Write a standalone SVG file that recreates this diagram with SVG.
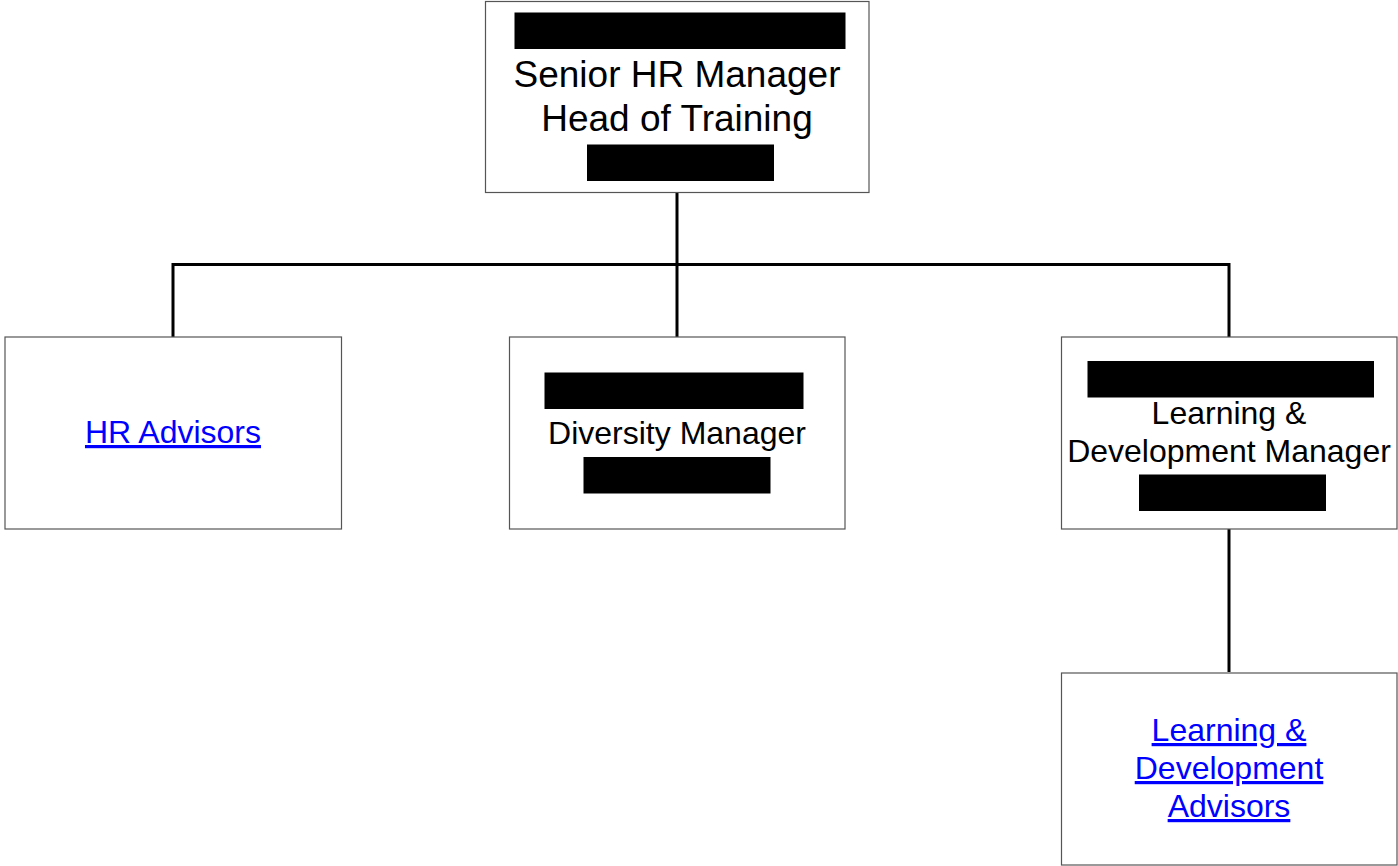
<svg xmlns="http://www.w3.org/2000/svg" width="1398" height="866" viewBox="0 0 1398 866">
<style>
.box{fill:#fff;stroke:#555;stroke-width:1.2}
.bar{fill:#000}
.t{font-family:"Liberation Sans",Arial,sans-serif;font-size:32px;fill:#000;text-anchor:middle}
.big{font-size:37px}
.link{fill:#0000ff;text-decoration:underline}
.c{stroke:#000;stroke-width:3;fill:none}
</style>
<rect width="1398" height="866" fill="#fff"/>
<g id="connectors">
<line class="c" x1="677" y1="192" x2="677" y2="337"/>
<polyline class="c" points="173,337 173,264.5 1229,264.5 1229,337"/>
<line class="c" x1="1229" y1="529" x2="1229" y2="672"/>
</g>
<g id="senior">
<rect class="box" x="485.5" y="1.5" width="383.5" height="191"/>
<rect class="bar" x="514.5" y="12.5" width="331" height="36.5"/>
<text class="t big" x="677" y="87">Senior HR Manager</text>
<text class="t big" x="677" y="131">Head of Training</text>
<rect class="bar" x="587" y="144.5" width="187" height="36.5"/>
</g>
<g id="hr-advisors">
<rect class="box" x="5" y="337" width="336.5" height="192"/>
<text class="t link" x="173" y="443">HR Advisors</text>
</g>
<g id="diversity">
<rect class="box" x="509.5" y="337" width="335.5" height="192"/>
<rect class="bar" x="544.5" y="372.5" width="259" height="36.5"/>
<text class="t" x="677" y="444">Diversity Manager</text>
<rect class="bar" x="583.5" y="457" width="187" height="36.5"/>
</g>
<g id="ld-manager">
<rect class="box" x="1061.5" y="337" width="335.5" height="192"/>
<rect class="bar" x="1087.5" y="361" width="286.5" height="36.5"/>
<text class="t" x="1229" y="424">Learning &amp;</text>
<text class="t" x="1229" y="462">Development Manager</text>
<rect class="bar" x="1139" y="474.5" width="187" height="36.5"/>
</g>
<g id="ld-advisors">
<rect class="box" x="1061.5" y="673" width="335.5" height="192"/>
<text class="t link" x="1229" y="741">Learning &amp;</text>
<text class="t link" x="1229" y="779">Development</text>
<text class="t link" x="1229" y="817">Advisors</text>
</g>
</svg>
